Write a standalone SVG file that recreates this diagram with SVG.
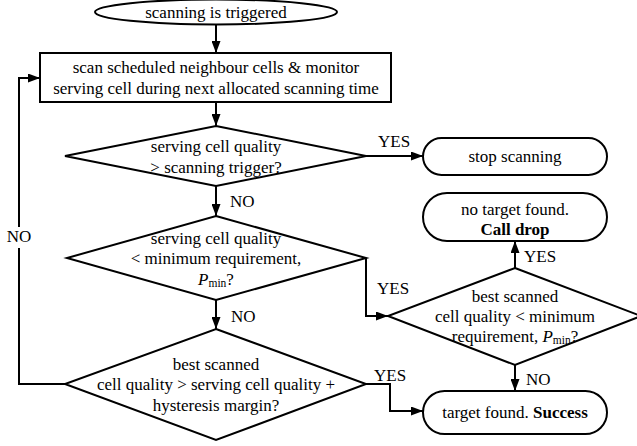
<svg xmlns="http://www.w3.org/2000/svg" width="637" height="446" viewBox="0 0 637 446" font-family="Liberation Serif, serif" font-size="17">
<defs>
<marker id="ah" markerWidth="12" markerHeight="9" refX="12" refY="4.5" orient="auto" markerUnits="userSpaceOnUse">
<path d="M0,0 L12,4.5 L0,9 Z" fill="#000"/>
</marker>
<style>
.s{fill:#fff;stroke:#000;stroke-width:2}
.c{fill:none;stroke:#000;stroke-width:2}
.a{marker-end:url(#ah)}
.m{text-anchor:middle}
.b{font-weight:bold}
.sub{font-size:11.5px}
</style>
</defs>
<rect width="637" height="446" fill="#fff"/>
<g id="connectors">
<path class="c a" d="M216,25 V53"/>
<path class="c a" d="M216,102 V126"/>
<path class="c a" d="M366,156 H423"/>
<path class="c a" d="M216,186 V216"/>
<path class="c a" d="M366,258 V316 H388"/>
<path class="c a" d="M515,268 V241"/>
<path class="c a" d="M515,365 V391"/>
<path class="c a" d="M216,300 V329"/>
<path class="c a" d="M366,384 H390 V411 H423"/>
<path class="c" d="M65,384 H19 V248"/>
<path class="c a" d="M19,227 V78 H40"/>
<text font-family="Liberation Serif, serif" x="378" y="147">YES</text>
<text font-family="Liberation Serif, serif" x="230" y="207">NO</text>
<text font-family="Liberation Serif, serif" x="377" y="294">YES</text>
<text font-family="Liberation Serif, serif" x="524" y="262">YES</text>
<text font-family="Liberation Serif, serif" x="526" y="385">NO</text>
<text font-family="Liberation Serif, serif" x="231" y="322">NO</text>
<text font-family="Liberation Serif, serif" x="374" y="381">YES</text>
<text font-family="Liberation Serif, serif" class="m" x="19" y="242">NO</text>
</g>
<g id="start">
<ellipse class="s" cx="216" cy="12" rx="121" ry="12.5"/>
<text font-family="Liberation Serif, serif" class="m" x="216" y="18">scanning is triggered</text>
</g>
<g id="scan">
<rect class="s" x="40" y="53" width="351" height="49"/>
<text font-family="Liberation Serif, serif" class="m" x="216" y="73">scan scheduled neighbour cells &amp; monitor</text>
<text font-family="Liberation Serif, serif" class="m" x="216" y="94">serving cell during next allocated scanning time</text>
</g>
<g id="d1">
<polygon class="s" points="216,126 366,156 216,186 65,156"/>
<text font-family="Liberation Serif, serif" class="m" x="216" y="152">serving cell quality</text>
<text font-family="Liberation Serif, serif" class="m" x="216" y="173">&gt; scanning trigger?</text>
</g>
<g id="stop">
<rect class="s" x="423" y="138" width="184" height="37" rx="18.5"/>
<text font-family="Liberation Serif, serif" class="m" x="515" y="162">stop scanning</text>
</g>
<g id="d2">
<polygon class="s" points="216,216 366,258 216,300 67,258"/>
<text font-family="Liberation Serif, serif" class="m" x="216" y="244">serving cell quality</text>
<text font-family="Liberation Serif, serif" class="m" x="216" y="264">&lt; minimum requirement,</text>
<text font-family="Liberation Serif, serif" class="m" x="216" y="285"><tspan font-style="italic">P</tspan><tspan class="sub" dy="2">min</tspan><tspan dy="-2">?</tspan></text>
</g>
<g id="drop">
<rect class="s" x="423" y="193" width="184" height="48" rx="24"/>
<text font-family="Liberation Serif, serif" class="m" x="515" y="215">no target found.</text>
<text font-family="Liberation Serif, serif" class="m b" x="515" y="235">Call drop</text>
</g>
<g id="d3">
<polygon class="s" points="515,268 641,316 515,365 388,316"/>
<text font-family="Liberation Serif, serif" class="m" x="515" y="302">best scanned</text>
<text font-family="Liberation Serif, serif" class="m" x="515" y="322">cell quality &lt; minimum</text>
<text font-family="Liberation Serif, serif" class="m" x="515" y="342">requirement, <tspan font-style="italic">P</tspan><tspan class="sub" dy="2">min</tspan><tspan dy="-2">?</tspan></text>
</g>
<g id="success">
<rect class="s" x="423" y="391" width="184" height="43" rx="21.5"/>
<text font-family="Liberation Serif, serif" class="m" x="515" y="418">target found. <tspan class="b">Success</tspan></text>
</g>
<g id="d4">
<polygon class="s" points="216,329 366,384 216,440 65,384"/>
<text font-family="Liberation Serif, serif" class="m" x="216" y="370">best scanned</text>
<text font-family="Liberation Serif, serif" class="m" x="216" y="390">cell quality &gt; serving cell quality +</text>
<text font-family="Liberation Serif, serif" class="m" x="216" y="411">hysteresis margin?</text>
</g>
</svg>
